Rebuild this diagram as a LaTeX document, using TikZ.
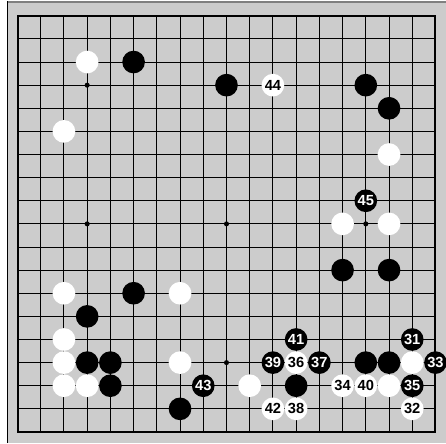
\documentclass[tikz,border=0pt]{standalone}
\usepackage{fontspec}
\setmainfont{Liberation Sans}
\definecolor{boardgray}{RGB}{204,204,204}
\definecolor{framegray}{RGB}{128,128,128}
\begin{document}
\begin{tikzpicture}[x=0.75pt,y=-0.75pt,
  gridline/.style={line width=0.75pt,black},
  boardedge/.style={line width=1.5pt,black},
  stone/.style={circle,inner sep=0pt,minimum size=17pt,
    font=\fontsize{11}{13}\selectfont\bfseries},
  bstone/.style={stone,fill=black,text=white},
  wstone/.style={stone,fill=white,text=black}]
\useasboundingbox (0,0) rectangle (446,443);
\fill[boardgray] (7,1) rectangle (446,443);
\draw[framegray,line width=1.2pt] (7,1.8) -- (446,1.8);
\draw[black,line width=0.75pt] (7.5,1) -- (7.5,443);
\foreach \k in {1,...,17} {
  \pgfmathsetmacro{\xx}{17.5+23.22*\k}
  \pgfmathsetmacro{\yy}{15.8+23.12*\k}
  \draw[gridline] (\xx,15.8) -- (\xx,431.96);
  \draw[gridline] (17.5,\yy) -- (435.46,\yy);
}
\draw[boardedge] (17.5,15.8) rectangle (435.46,431.96);
\foreach \i in {3,9,15} \foreach \j in {3,9,15} {
  \pgfmathsetmacro{\xx}{17.5+23.22*\i}
  \pgfmathsetmacro{\yy}{15.8+23.12*\j}
  \fill (\xx,\yy) circle[radius=1.9pt];
}
\foreach \i/\j in {5/2,9/3,15/3,16/4,14/11,16/11,5/12,3/13,3/15,4/15,15/15,16/15,4/16,12/16,7/17} {
  \pgfmathsetmacro{\xx}{17.5+23.22*\i}
  \pgfmathsetmacro{\yy}{15.8+23.12*\j}
  \node[bstone] (s\i-\j) at (\xx,\yy) {};
}
\foreach \i/\j in {3/2,2/5,16/6,14/9,16/9,2/12,7/12,2/14,2/15,7/15,17/15,2/16,3/16,10/16,16/16} {
  \pgfmathsetmacro{\xx}{17.5+23.22*\i}
  \pgfmathsetmacro{\yy}{15.8+23.12*\j}
  \node[wstone] (s\i-\j) at (\xx,\yy) {};
}
\foreach \i/\j/\n in {15/8/45,12/14/41,17/14/31,11/15/39,13/15/37,18/15/33,8/16/43,17/16/35} {
  \pgfmathsetmacro{\xx}{17.5+23.22*\i}
  \pgfmathsetmacro{\yy}{15.8+23.12*\j}
  \node[bstone] (s\i-\j) at (\xx,\yy) {\n};
}
\foreach \i/\j/\n in {11/3/44,12/15/36,14/16/34,15/16/40,11/17/42,12/17/38,17/17/32} {
  \pgfmathsetmacro{\xx}{17.5+23.22*\i}
  \pgfmathsetmacro{\yy}{15.8+23.12*\j}
  \node[wstone] (s\i-\j) at (\xx,\yy) {\n};
}
\end{tikzpicture}
\end{document}
